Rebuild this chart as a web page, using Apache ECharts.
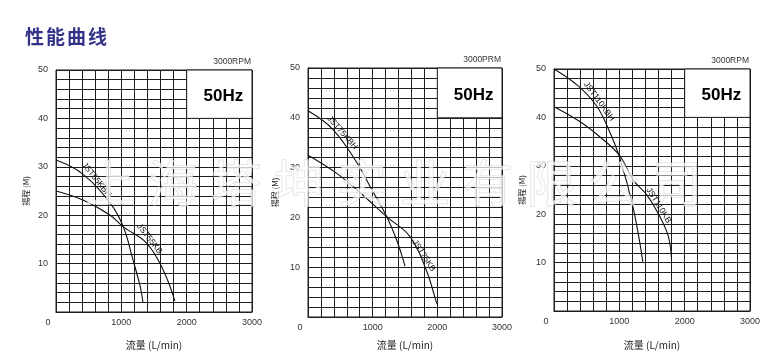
<!DOCTYPE html>
<html><head><meta charset="utf-8">
<script src="https://cdn.jsdelivr.net/npm/echarts@6/dist/echarts.min.js"></script>
<style>html,body{margin:0;padding:0;background:#fff}#c{width:771px;height:356px}</style>
</head><body><div id="c"></div>
<script>
// ---- data ----
const xTicks = [0, 1000, 2000, 3000];
const yTicks = [0, 10, 20, 30, 40, 50];
const names55 = ['JST55KBH', 'JST55KB'];
const names75 = ['JST75KBH', 'JST75KB'];
const names110 = ['JST110KBH', 'JST110KB'];
const kbh55 = [[0,31.4],[400,28.6],[830,22.5],[1030,17.6],[1180,10.7],[1290,5.2],[1330,2.1]];
const kb55  = [[0,25.0],[420,23.1],[830,20.0],[1030,17.6],[1390,14.2],[1640,8.7],[1820,2.3]];
const kbh75 = [[0,41.4],[390,37.6],[780,30.5],[960,26.2],[1220,20.1],[1370,15.5],[1500,10.2]];
const kb75  = [[0,32.5],[440,28.9],[820,24.8],[1220,20.1],[1580,16.1],[1830,9.4],[1960,4.1],[1990,2.7]];
const kbh110 = [[0,50],[370,46.5],[650,42.4],[830,37.7],[1000,31.9],[1210,21.4],[1360,10.2]];
const kb110  = [[0,42.2],[400,39.1],[700,36.0],[1000,32.2],[1210,27.1],[1420,24.0],[1620,19.5],[1750,15.4],[1800,10.5]];
// label anchor points beside curves [x, y, rotate]
const lab55 = [[620,27.3,-51],[1430,15.1,-52]];
const lab75 = [[530,37.0,-49],[1790,12.3,-57]];
const lab110 = [[690,43.3,-54],[1600,21.8,-58]];
const rpmLabels = ['3000RPM', '3000PRM', '3000RPM'];
const hzLabel = '50Hz';
const xName = '流量 (L/min)';
const yName = '揚程 (M)';
const pageTitle = '性能曲线';
const watermark = '上海塔坤实业有限公司';

const FONT = 'Liberation Sans, Arial, sans-serif';
const gridsPos = [
  {left:56, top:70, width:196, height:242, xGap:28, yGap:26},
  {left:308, top:68, width:194, height:249, xGap:23, yGap:29},
  {left:554, top:69, width:196, height:242, xGap:29, yGap:28}
];
const lineC = '#1e1e1e';
const grid = [], xAxis = [], yAxis = [], series = [];
const sets = [[kbh55,kb55,names55,lab55],[kbh75,kb75,names75,lab75],[kbh110,kb110,names110,lab110]];

gridsPos.forEach((g, i) => {
  grid.push({left:g.left, top:g.top, width:g.width, height:g.height, show:true, borderColor:lineC, borderWidth:1});
  xAxis.push({
    type:'value', gridIndex:i, min:xTicks[0], max:xTicks[xTicks.length-1], interval:xTicks[1]-xTicks[0],
    name:xName, nameLocation:'middle', nameGap:g.xGap,
    nameTextStyle:{fontSize:10, color:'#222', fontFamily:'Noto Sans CJK SC, '+FONT},
    axisLine:{show:true, lineStyle:{color:lineC, width:1}}, axisTick:{show:false},
    minorTick:{show:false, splitNumber:5},
    splitLine:{show:true, lineStyle:{color:lineC, width:1}},
    minorSplitLine:{show:true, lineStyle:{color:lineC, width:1}},
    axisLabel:{fontSize:9, color:'#333', fontFamily:FONT, margin:6,
      formatter: v => v === 0 ? '{z|0}' : String(v),
      rich:{z:{fontSize:9, color:'#333', fontFamily:FONT, padding:[0,16,0,0]}}}
  });
  yAxis.push({
    type:'value', gridIndex:i, min:yTicks[0], max:yTicks[yTicks.length-1], interval:yTicks[1]-yTicks[0],
    name:yName, nameLocation:'middle', nameGap:g.yGap,
    nameTextStyle:{fontSize:8, color:'#222', fontFamily:'Noto Sans CJK TC, '+FONT},
    axisLine:{show:true, lineStyle:{color:lineC, width:1}}, axisTick:{show:false},
    minorTick:{show:false, splitNumber:5},
    splitLine:{show:true, lineStyle:{color:lineC, width:1}},
    minorSplitLine:{show:true, lineStyle:{color:lineC, width:1}},
    axisLabel:{fontSize:9, color:'#333', fontFamily:FONT, margin:8,
      formatter: v => v === 0 ? '' : String(v)}
  });
  const [a, b, nm, lb] = sets[i];
  [a, b].forEach((d, k) => {
    const s = {
      type:'line', xAxisIndex:i, yAxisIndex:i, data:d, smooth:0.4, symbol:'none',
      lineStyle:{color:'#111', width:1.1}, silent:true, z:5,
      markPoint:{symbol:'circle', symbolSize:0, silent:true,
        data:[{coord:[lb[k][0], lb[k][1]], value:nm[k],
          label:{show:true, position:'inside', rotate:lb[k][2], formatter:nm[k],
            fontSize:8.5, color:'#111', fontFamily:FONT}}]}
    };
    if (k === 0) {
      s.markArea = {silent:true,
        itemStyle:{color:'#fff', opacity:1, borderColor:lineC, borderWidth:1},
        label:{show:true, position:'inside', formatter:hzLabel, fontSize:17, fontWeight:'bold', color:'#000', fontFamily:FONT, offset:[4,2]},
        data:[[{xAxis:2000, yAxis:40},{xAxis:3000, yAxis:50}]]};
    }
    series.push(s);
  });
});

const graphic = [];
Array.from(pageTitle).forEach((ch, k) => {
  graphic.push({type:'text', x:25 + k*21, y:37, z:10,
    style:{text:ch, fontSize:19, fontWeight:'bold', fill:'#33338a', fontFamily:'Noto Sans CJK SC', textVerticalAlign:'middle'}});
});
gridsPos.forEach((g, i) => {
  graphic.push({type:'text', x:g.left+g.width-1, y:g.top-8, z:10,
    style:{text:rpmLabels[i], fontSize:8.5, fill:'#333', fontFamily:FONT, textAlign:'right', textVerticalAlign:'middle'}});
});
Array.from(watermark).forEach((ch, k) => {
  graphic.push({type:'text', x:110 + k*63, y:183, z:20, silent:true,
    style:{text:ch, fontSize:50, fontFamily:'Noto Sans CJK SC', textAlign:'center', textVerticalAlign:'middle',
      fill:'rgba(255,255,255,0.72)', stroke:'rgba(190,190,190,0.5)', lineWidth:1.2}});
});

const chart = echarts.init(document.getElementById('c'), null, {renderer:'canvas'});
chart.setOption({animation:false, backgroundColor:'#fff', grid, xAxis, yAxis, series, graphic});
</script></body></html>
